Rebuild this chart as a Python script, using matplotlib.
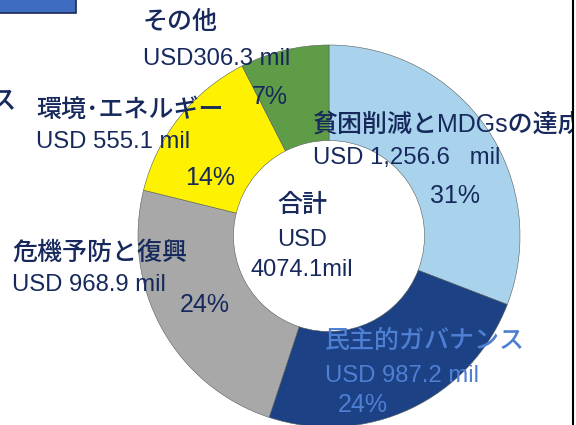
import matplotlib
matplotlib.use("Agg")
import matplotlib.pyplot as plt
from matplotlib.patches import Rectangle

# data (USD million)
categories = ['貧困削減とMDGsの達成', '民主的ガバナンス', '危機予防と復興', '環境･エネルギー', 'その他']
amounts = [1256.6, 987.2, 968.9, 555.1, 306.3]
amount_labels = ['USD 1,256.6   mil', 'USD 987.2 mil', 'USD 968.9 mil', 'USD 555.1 mil', 'USD306.3 mil']
pct_labels = ['31%', '24%', '24%', '14%', '7%']
total_label = ['合計', 'USD', '4074.1mil']

colors = ['#a9d3ec', '#1c4184', '#a7a8a7', '#fff200', '#5f9c47']
navy = '#17295c'

W, H = 576, 425
plt.rcParams['font.family'] = ['Liberation Sans', 'Noto Sans CJK JP']

fig = plt.figure(figsize=(W / 100, H / 100), dpi=100)
ax = fig.add_axes([0, 0, 1, 1])

# donut (center / radius in pixel units, y measured from the bottom)
cx, cy, r = 329, H - 236, 191
ax.pie(amounts, colors=colors, startangle=90, counterclock=False,
       center=(cx, cy), radius=r, frame=True,
       wedgeprops=dict(width=r * 0.5, edgecolor='#55605a', linewidth=0.4))
ax.set_xlim(0, W)
ax.set_ylim(0, H)
ax.set_aspect('equal')
ax.axis('off')


def put(x, y, s, color=navy, size=17, ha='left'):
    t = ax.text(x, H - y, s, color=color, fontsize=size, ha=ha, va='center',
                fontweight='medium')
    t.set_clip_on(True)
    return t


# label layout: (name x, name y, amount y, pct x, pct y)
layout = [
    (313, 125, 158, 455, 196),
    (325, 341, 376, 363, 405),
    (12, 253, 285, 205, 305),
    (36, 110, 142, 210, 178),
    (143, 22, 59, 270, 97),
]
for i, (nx, ny, ay, px, py) in enumerate(layout):
    c = '#4f7fd3' if i == 1 else navy
    put(nx, ny, categories[i], color=c, size=18)
    put(nx, ay, amount_labels[i], color=c, size=17.2)
    put(px, py, pct_labels[i], color=c, size=18, ha='center')

# centre total
for s, y, sz in zip(total_label, [205, 240, 270], [18, 17, 17]):
    put(302, y, s, size=sz, ha='center')

# slide fragments around the crop
ax.add_patch(Rectangle((-2, H - 13), 78, 15, facecolor='#3d6cc0', edgecolor='#1b2a55', lw=1.2))
put(-10, 101, 'ス', size=19)
ax.add_patch(Rectangle((573, 0), 10, H, facecolor='white', edgecolor='none', zorder=5))
ax.axvline(573, color='black', lw=1.5, zorder=6)

fig.savefig('out.png', dpi=100)
